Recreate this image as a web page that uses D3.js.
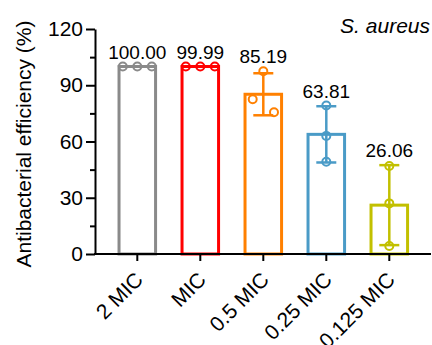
<!DOCTYPE html>
<html lang="en">
<head>
    <meta charset="UTF-8">
    <title>Antibacterial efficiency - S. aureus</title>
    <script src="https://d3js.org/d3.v7.min.js"></script>
    <style>
        body { margin: 0; background: #fff; }
        svg { display: block; font-family: "Liberation Sans", Arial, sans-serif; }
        .axis path, .axis line { stroke: #000; stroke-width: 2; }
        .axis text { font-size: 21px; fill: #000; font-family: "Liberation Sans", Arial, sans-serif; }
    </style>
</head>
<body>
    <svg id="chart" width="432" height="345"></svg>

    <script>
        // data
        const groups = ["2 MIC", "MIC", "0.5 MIC", "0.25 MIC", "0.125 MIC"];
        const rep2MIC = [100, 100, 100];
        const repMIC = [99.99, 99.99, 99.99];
        const rep05MIC = [97.5, 82.5, 75.57];
        const rep025MIC = [79.2, 63.0, 49.23];
        const rep0125MIC = [46.9, 27.0, 4.28];
        const replicates = [rep2MIC, repMIC, rep05MIC, rep025MIC, rep0125MIC];
        const yTicks = [0, 30, 60, 90, 120];
        const yMinorTicks = [15, 45, 75, 105];

        // styling / layout
        const colors = ["#8a8a8a", "#ff0000", "#ff8000", "#4a9bc7", "#c2c000"];
        const pointJitter = [
            [-14.5, 0, 14.5],
            [-14.5, 0, 14.5],
            [0, -10.6, 10.7],
            [0, 0, 0],
            [0, 0, 0]
        ];

        const svg = d3.select("#chart");

        const y = d3.scaleLinear()
            .domain([0, 120])
            .range([254, 29]);

        const x = d3.scaleBand()
            .domain(groups)
            .range([105.8, 420.8])
            .paddingInner(0.42)
            .paddingOuter(0.21);

        const stats = replicates.map((vals, i) => ({
            group: groups[i],
            mean: d3.mean(vals),
            sd: d3.deviation(vals) || 0,
            vals: vals,
            color: colors[i],
            idx: i
        }));

        // bars
        svg.append("g")
            .selectAll("rect")
            .data(stats)
            .join("rect")
            .attr("x", d => x(d.group))
            .attr("width", x.bandwidth())
            .attr("y", d => y(d.mean))
            .attr("height", d => y(0) - y(d.mean))
            .attr("fill", "none")
            .attr("stroke", d => d.color)
            .attr("stroke-width", 3);

        // error bars
        const err = svg.append("g")
            .selectAll("g")
            .data(stats)
            .join("g")
            .attr("stroke", d => d.color)
            .attr("stroke-width", 2.5);

        err.append("line")
            .attr("x1", d => x(d.group) + x.bandwidth() / 2)
            .attr("x2", d => x(d.group) + x.bandwidth() / 2)
            .attr("y1", d => y(d.mean + d.sd))
            .attr("y2", d => y(d.mean - d.sd));

        err.selectAll(".cap")
            .data(d => [d.mean + d.sd, d.mean - d.sd].map(v => ({ v, d })))
            .join("line")
            .attr("class", "cap")
            .attr("x1", o => x(o.d.group) + x.bandwidth() / 2 - 10)
            .attr("x2", o => x(o.d.group) + x.bandwidth() / 2 + 10)
            .attr("y1", o => y(o.v))
            .attr("y2", o => y(o.v));

        // individual points
        svg.append("g")
            .selectAll("g")
            .data(stats)
            .join("g")
            .selectAll("circle")
            .data(d => d.vals.map((v, j) => ({ v, j, d })))
            .join("circle")
            .attr("cx", o => x(o.d.group) + x.bandwidth() / 2 + pointJitter[o.d.idx][o.j])
            .attr("cy", o => y(o.v))
            .attr("r", 4)
            .attr("fill", "none")
            .attr("stroke", o => o.d.color)
            .attr("stroke-width", 2);

        // value labels
        svg.append("g")
            .selectAll("text")
            .data(stats)
            .join("text")
            .attr("x", d => x(d.group) + x.bandwidth() / 2)
            .attr("y", d => y(Math.max(d.mean + d.sd, d3.max(d.vals))) - 8)
            .attr("text-anchor", "middle")
            .style("font-size", "19px")
            .text(d => d.mean.toFixed(2));

        // y axis
        svg.append("g")
            .attr("class", "axis")
            .attr("transform", "translate(95,0)")
            .call(d3.axisLeft(y).tickValues(yTicks).tickSize(9).tickSizeOuter(0).tickPadding(3));

        svg.append("g")
            .attr("class", "axis")
            .attr("transform", "translate(95,0)")
            .call(d3.axisLeft(y).tickValues(yMinorTicks).tickSize(5).tickSizeOuter(0).tickFormat(""))
            .select(".domain").remove();

        // x axis
        const xAxis = svg.append("g")
            .attr("class", "axis")
            .attr("transform", "translate(0,254)");
        xAxis.append("line")
            .attr("x1", 94)
            .attr("x2", 431)
            .attr("stroke", "#000")
            .attr("stroke-width", 2);
        const xt = xAxis.selectAll(".xtick")
            .data(groups)
            .join("g")
            .attr("class", "xtick")
            .attr("transform", d => `translate(${x(d) + x.bandwidth() / 2},0)`);
        xt.append("line")
            .attr("y1", 0)
            .attr("y2", 7);
        xt.append("text")
            .attr("text-anchor", "end")
            .attr("transform", "translate(7,27) rotate(-45)")
            .text(d => d);

        // axis title
        svg.append("text")
            .attr("text-anchor", "middle")
            .attr("transform", "translate(31,144) rotate(-90)")
            .style("font-size", "21px")
            .text("Antibacterial efficiency (%)");

        // organism label
        svg.append("text")
            .attr("x", 430)
            .attr("y", 33)
            .attr("text-anchor", "end")
            .style("font-size", "21px")
            .style("font-style", "italic")
            .text("S. aureus");
    </script>
</body>
</html>
